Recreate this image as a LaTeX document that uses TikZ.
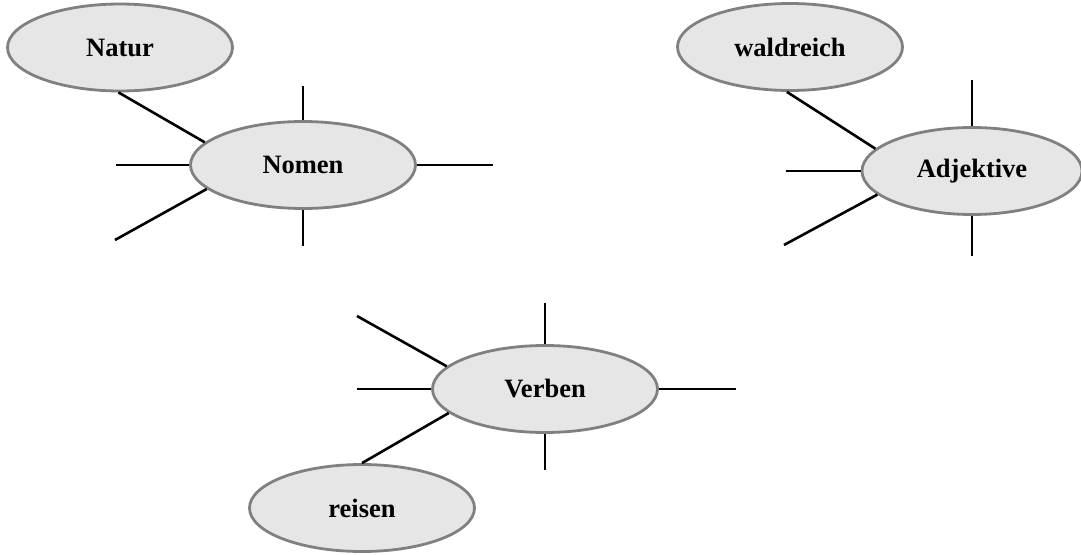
\documentclass[tikz,border=0pt]{standalone}
\usepackage{fontspec}
\setmainfont{Liberation Serif}
\usetikzlibrary{shapes.geometric}
\definecolor{ellfill}{HTML}{E6E6E6}
\definecolor{ellline}{HTML}{808080}
\begin{document}
\begin{tikzpicture}[x=1pt,y=-1pt,
  bubble/.style={ellipse, draw=ellline, line width=2.8pt, fill=ellfill,
    minimum width=225pt, minimum height=87pt, inner sep=0pt,
    font=\fontsize{26.5}{30}\selectfont\bfseries},
  spoke/.style={draw=black, line width=2.6pt}]
\useasboundingbox (0,0) rectangle (1081,554);
% nodes
\node[bubble] (natur) at (120,47.5) {Natur};
\node[bubble] (nomen) at (303,165) {Nomen};
\node[bubble] (wald) at (790,47) {waldreich};
\node[bubble, minimum width=220pt] (adj) at (972,171) {Adjektive};
\node[bubble] (verb) at (545,389) {Verben};
\node[bubble] (reisen) at (362,508) {reisen};
% free ends
\coordinate (n1) at (303,86);
\coordinate (n2) at (303,246);
\coordinate (n3) at (116,165);
\coordinate (n4) at (493,165);
\coordinate (n5) at (115,240);
\coordinate (a1) at (972,80);
\coordinate (a2) at (972,256);
\coordinate (a3) at (786,171);
\coordinate (a5) at (784,245);
\coordinate (v1) at (545,303);
\coordinate (v2) at (545,470);
\coordinate (v3) at (357,389);
\coordinate (v4) at (736,389);
\coordinate (v5) at (357,316);
% spokes
\path[spoke] (nomen.north) -- (n1);
\path[spoke] (nomen.south) -- (n2);
\path[spoke] (nomen.west) -- (n3);
\path[spoke] (nomen.east) -- (n4);
\path[spoke] (natur.268) -- (nomen.167);
\path[spoke] (nomen.194) -- (n5);
\path[spoke] (adj.north) -- (a1);
\path[spoke] (adj.south) -- (a2);
\path[spoke] (adj.west) -- (a3);
\path[spoke] (wald.266) -- (adj.167);
\path[spoke] (adj.194) -- (a5);
\path[spoke] (verb.north) -- (v1);
\path[spoke] (verb.south) -- (v2);
\path[spoke] (verb.west) -- (v3);
\path[spoke] (verb.east) -- (v4);
\path[spoke] (verb.167) -- (v5);
\path[spoke] (verb.194) -- (reisen.north);
\end{tikzpicture}
\end{document}
